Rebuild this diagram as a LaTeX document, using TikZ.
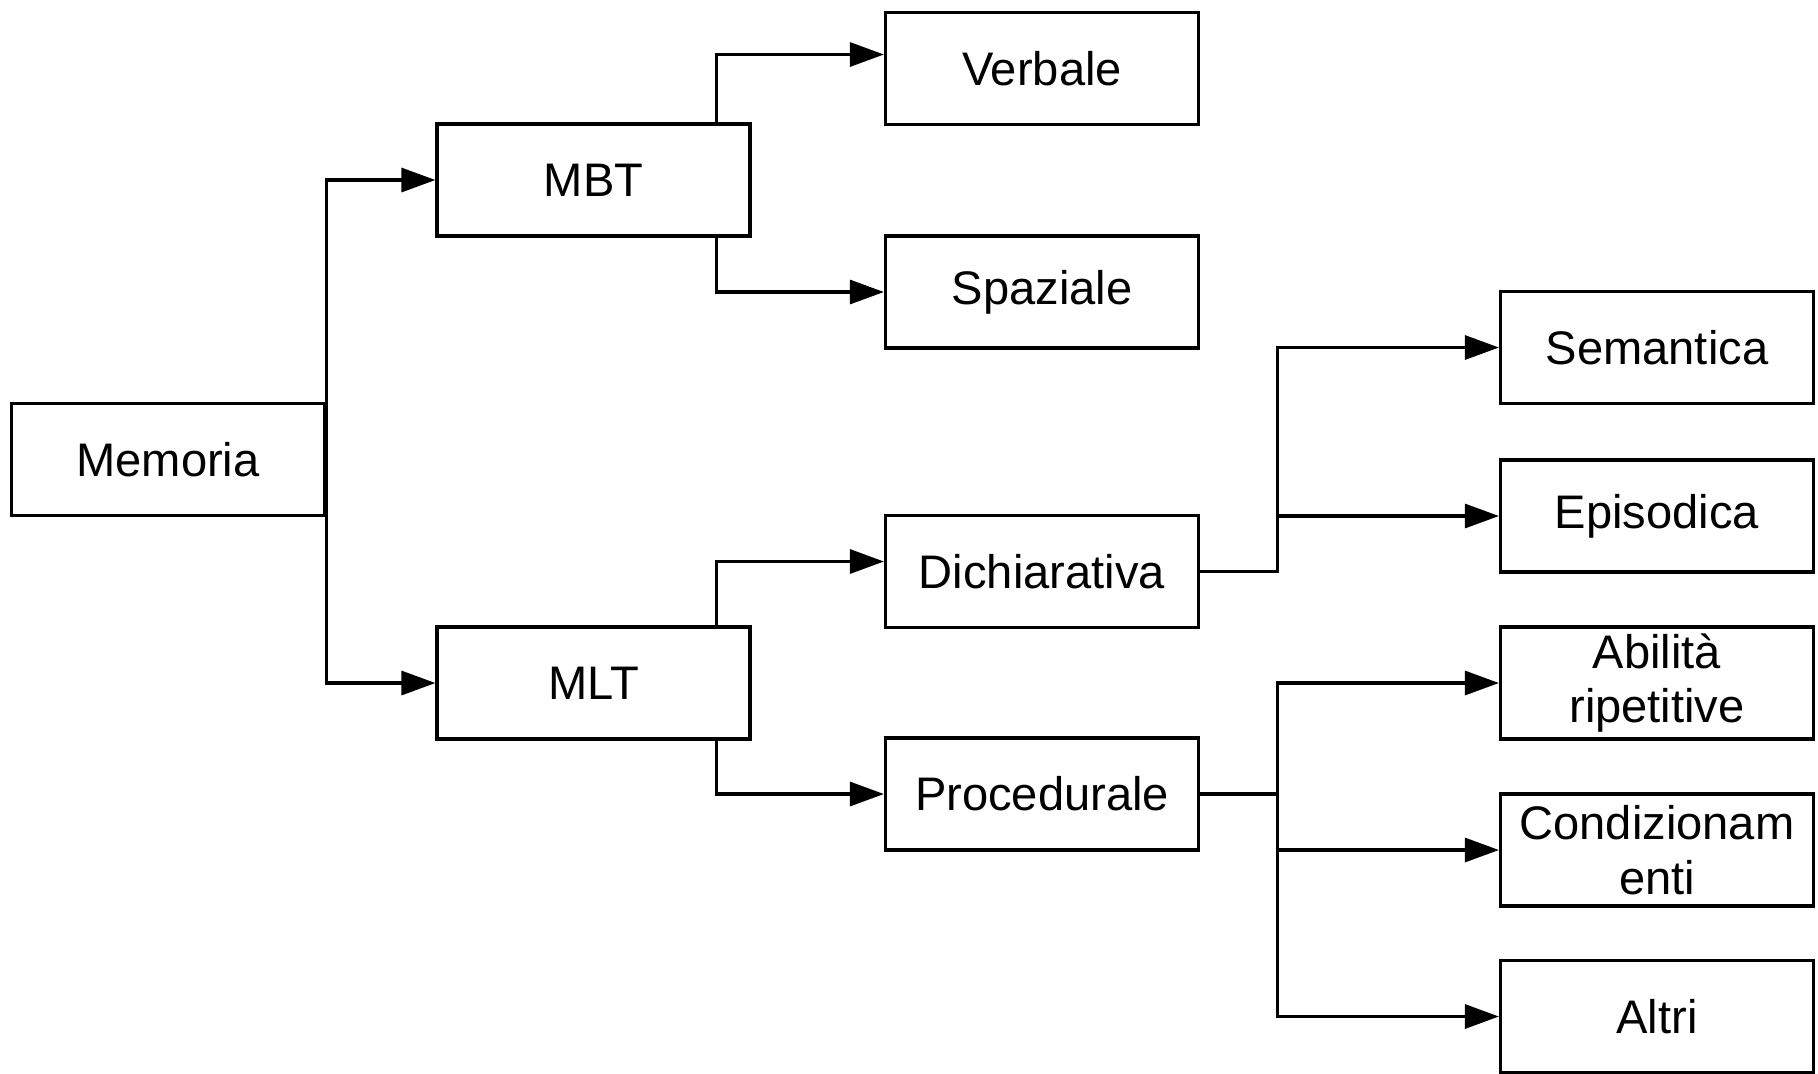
\documentclass[tikz,border=0pt]{standalone}
\usepackage{fontspec}
\setmainfont{Liberation Sans}
\usetikzlibrary{arrows.meta}

\begin{document}
\begin{tikzpicture}[
    box/.style={draw, line width=0.9pt, minimum width=3.13cm, minimum height=1.12cm,
        inner sep=1pt, align=center, font=\fontsize{13.4}{15.5}\selectfont},
    link/.style={line width=0.9pt, -{Triangle[length=3.4mm, width=2.4mm]}}]
    \useasboundingbox (0,0) rectangle (18.18,-10.73);
    % Root
    \node[box] (memoria) at (1.68,-4.595) {Memoria};
    % First level
    \node[box] (mbt) at (5.935,-1.80) {MBT};
    \node[box] (mlt) at (5.935,-6.83) {MLT};
    % Second level
    \node[box] (verbale) at (10.42,-0.685) {Verbale};
    \node[box] (spaziale) at (10.42,-2.92) {Spaziale};
    \node[box] (dichiarativa) at (10.42,-5.715) {Dichiarativa};
    \node[box] (procedurale) at (10.42,-7.94) {Procedurale};
    % Third level
    \node[box] (semantica) at (16.57,-3.475) {Semantica};
    \node[box] (episodica) at (16.57,-5.16) {Episodica};
    \node[box] (abilita) at (16.57,-6.83) {Abilità\\ripetitive};
    \node[box] (condiz) at (16.57,-8.50) {Condizionam\\enti};
    \node[box] (altri) at (16.57,-10.165) {Altri};
    % Memoria branches
    \draw[link] (memoria.east) |- (mbt.west);
    \draw[link] (memoria.east) |- (mlt.west);
    % MBT branches
    \draw[link] ([xshift=-0.35cm]mbt.north east) |- ([yshift=0.14cm]verbale.west);
    \draw[link] ([xshift=-0.35cm]mbt.south east) |- (spaziale.west);
    % MLT branches
    \draw[link] ([xshift=-0.35cm]mlt.north east) |- ([yshift=0.1cm]dichiarativa.west);
    \draw[link] ([xshift=-0.35cm]mlt.south east) |- (procedurale.west);
    % Dichiarativa branches
    \coordinate (djoin) at ([xshift=0.77cm]dichiarativa.east);
    \draw[link] (dichiarativa.east) -- (djoin) |- (semantica.west);
    \draw[link] (djoin) |- (episodica.west);
    % Procedurale branches
    \coordinate (pjoin) at ([xshift=0.77cm]procedurale.east);
    \draw[line width=0.9pt] (procedurale.east) -- (pjoin);
    \draw[link] (pjoin) |- (abilita.west);
    \draw[link] (pjoin) |- (condiz.west);
    \draw[link] (pjoin) |- (altri.west);
\end{tikzpicture}
\end{document}
